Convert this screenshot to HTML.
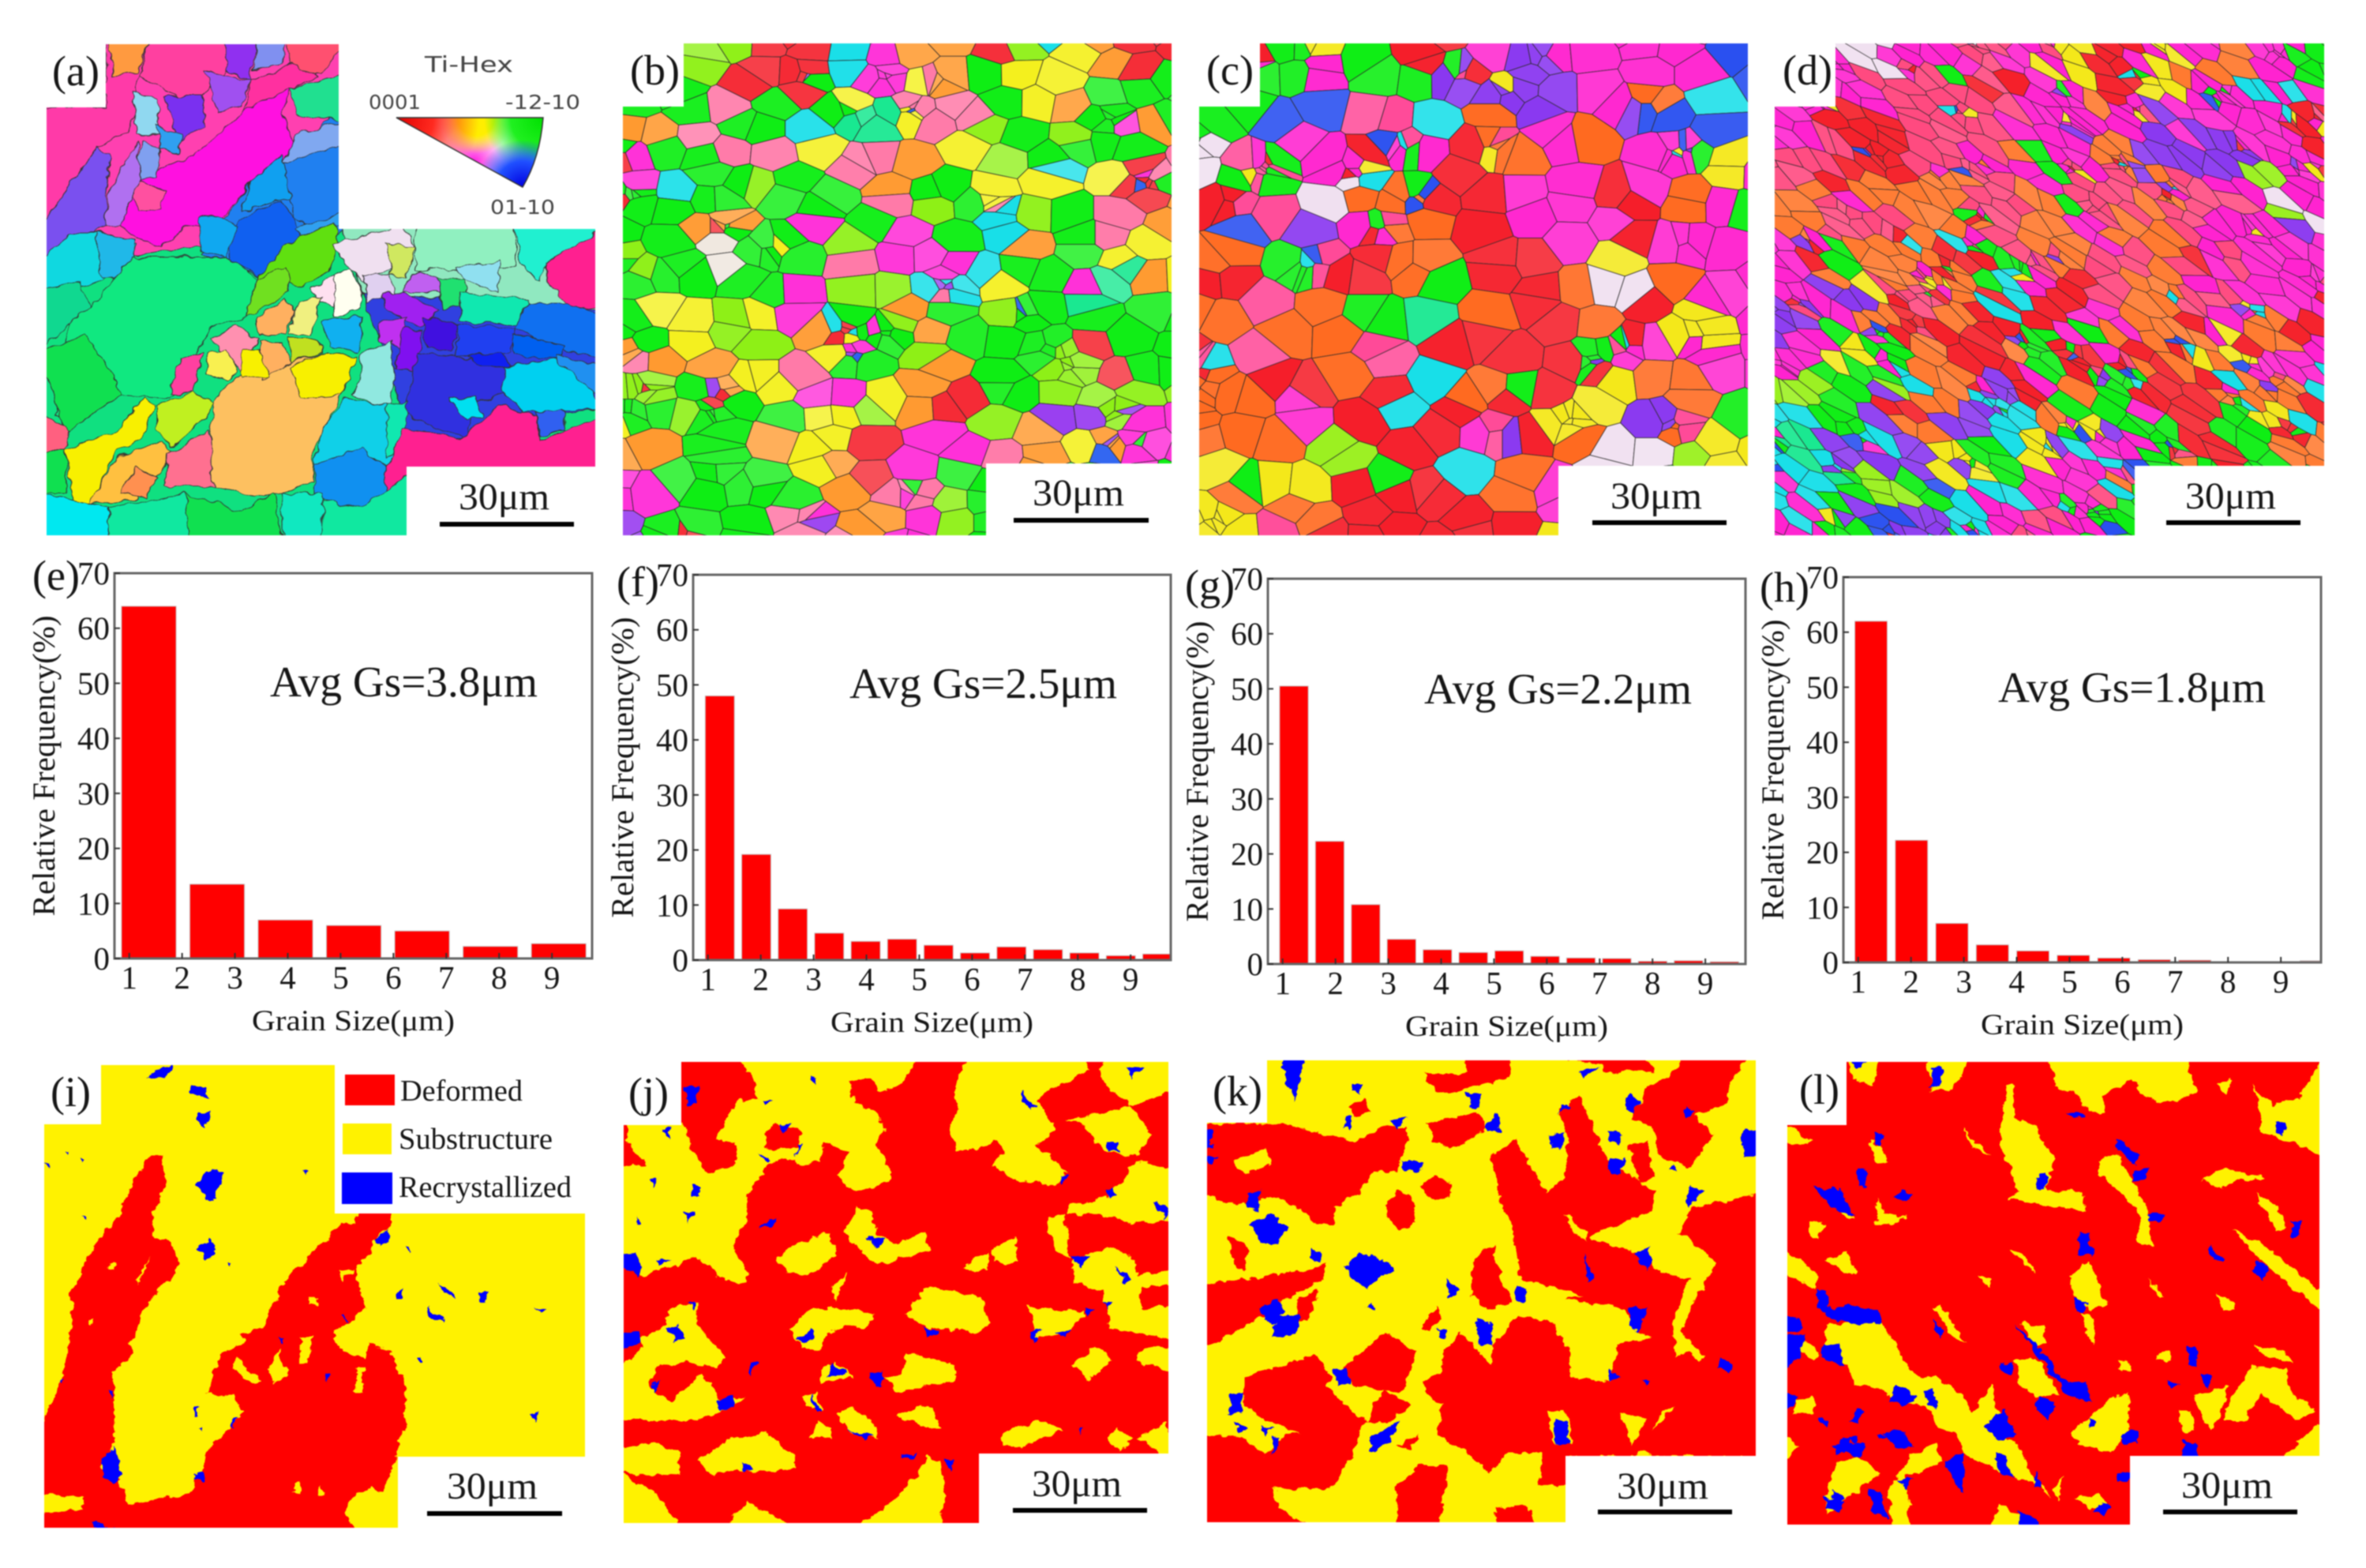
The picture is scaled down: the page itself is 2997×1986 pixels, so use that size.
<!DOCTYPE html>
<html lang="en">
<head>
<meta charset="utf-8">
<title>EBSD grain maps and grain size distributions</title>
<style>
html,body{margin:0;padding:0;background:#fff;width:2997px;height:1986px;overflow:hidden}
svg{display:block;filter:blur(.8px)}
text{font-family:"Liberation Serif",serif;fill:#161616}
.sans{font-family:"DejaVu Sans","Liberation Sans",sans-serif;fill:#444}
.panel{font-size:54px}
.scale{font-size:48px}
.leg{font-size:38px}
</style>
</head>
<body>
<svg id="figure" xmlns="http://www.w3.org/2000/svg" width="2997" height="1986" viewBox="0 0 2997 1986">
<defs>
  <clipPath id="clipA"><polygon points="134,56 429,56 429,290 754,290 754,591 515,591 515,678 59,678 59,136 134,136"/></clipPath>
  <clipPath id="clipB"><polygon points="866,55 1484,55 1484,587 1249,587 1249,678 789,678 789,135 866,135"/></clipPath>
  <clipPath id="clipC"><polygon points="1596,55 2214,55 2214,590 1974,590 1974,678 1519,678 1519,135 1596,135"/></clipPath>
  <clipPath id="clipD"><polygon points="2325,55 2944,55 2944,590 2704,590 2704,678 2248,678 2248,135 2325,135"/></clipPath>
  <clipPath id="clipI"><polygon points="128,1349 424,1349 424,1537 741,1537 741,1845 504,1845 504,1935 56,1935 56,1424 128,1424"/></clipPath>
  <clipPath id="clipJ"><polygon points="863,1345 1480,1345 1480,1841 1240,1841 1240,1929 790,1929 790,1425 863,1425"/></clipPath>
  <clipPath id="clipK"><polygon points="1605,1343 2224,1343 2224,1844 1983,1844 1983,1928 1529,1928 1529,1422 1605,1422"/></clipPath>
  <clipPath id="clipL"><polygon points="2339,1345 2938,1345 2938,1844 2698,1844 2698,1931 2264,1931 2264,1425 2339,1425"/></clipPath>
  <clipPath id="clipTri"><path d="M502,149 L688,149 Q684,200 662,237 Z"/></clipPath>
  <filter id="wobble" x="-5%" y="-5%" width="110%" height="110%" color-interpolation-filters="sRGB">
    <feTurbulence type="fractalNoise" baseFrequency=".035" numOctaves="3" seed="4" result="n"/>
    <feDisplacementMap in="SourceGraphic" in2="n" scale="26" xChannelSelector="R" yChannelSelector="G"/>
  </filter>
  <filter id="wobbleA" x="-5%" y="-5%" width="110%" height="110%" color-interpolation-filters="sRGB">
    <feTurbulence type="fractalNoise" baseFrequency=".03" numOctaves="2" seed="9" result="n"/>
    <feDisplacementMap in="SourceGraphic" in2="n" scale="24" xChannelSelector="R" yChannelSelector="G"/>
  </filter>
  <radialGradient id="tRed" gradientUnits="userSpaceOnUse" cx="502" cy="149" r="105"><stop offset="0" stop-color="#e00000"/><stop offset=".45" stop-color="#ff2a20"/><stop offset="1" stop-color="#ff2a20" stop-opacity="0"/></radialGradient>
  <radialGradient id="tGreen" gradientUnits="userSpaceOnUse" cx="688" cy="149" r="75"><stop offset="0" stop-color="#00e000"/><stop offset=".55" stop-color="#20f020"/><stop offset="1" stop-color="#20f020" stop-opacity="0"/></radialGradient>
  <radialGradient id="tBlue" gradientUnits="userSpaceOnUse" cx="662" cy="237" r="60"><stop offset="0" stop-color="#0000e0"/><stop offset=".55" stop-color="#2050ff"/><stop offset="1" stop-color="#2050ff" stop-opacity="0"/></radialGradient>
  <radialGradient id="tYellow" gradientUnits="userSpaceOnUse" cx="603" cy="149" r="46"><stop offset="0" stop-color="#ffee00"/><stop offset=".5" stop-color="#ffee00"/><stop offset="1" stop-color="#ffee00" stop-opacity="0"/></radialGradient>
  <radialGradient id="tMag" gradientUnits="userSpaceOnUse" cx="600" cy="205" r="44"><stop offset="0" stop-color="#ff20e0"/><stop offset="1" stop-color="#ff20e0" stop-opacity="0"/></radialGradient>
  <radialGradient id="tCyan" gradientUnits="userSpaceOnUse" cx="680" cy="195" r="32"><stop offset="0" stop-color="#10e8f0"/><stop offset="1" stop-color="#10e8f0" stop-opacity="0"/></radialGradient>
</defs>

<!-- orientation maps -->
<g clip-path="url(#clipA)">
  <rect x="59" y="56" width="695" height="622" fill="#10e080"/>
  <g id="grainsA" transform="scale(.5102,.4464)" filter="url(#wobbleA)"></g>
</g>
<g id="mapB" clip-path="url(#clipB)"></g>
<g id="mapC" clip-path="url(#clipC)"></g>
<g id="mapD" clip-path="url(#clipD)"></g>

<!-- inverse pole figure key -->
<g>
  <text class="sans" x="538" y="91" font-size="28" textLength="112" lengthAdjust="spacingAndGlyphs">Ti-Hex</text>
  <text class="sans" x="467" y="138" font-size="25" textLength="66" lengthAdjust="spacingAndGlyphs">0001</text>
  <text class="sans" x="640" y="138" font-size="25" textLength="95" lengthAdjust="spacingAndGlyphs">-12-10</text>
  <text class="sans" x="621" y="271" font-size="25" textLength="82" lengthAdjust="spacingAndGlyphs">01-10</text>
  <g clip-path="url(#clipTri)">
    <rect x="495" y="145" width="200" height="100" fill="#fff"/>
    <rect x="495" y="145" width="200" height="100" fill="url(#tMag)"/>
    <rect x="495" y="145" width="200" height="100" fill="url(#tCyan)"/>
    <rect x="495" y="145" width="200" height="100" fill="url(#tYellow)"/>
    <rect x="495" y="145" width="200" height="100" fill="url(#tRed)"/>
    <rect x="495" y="145" width="200" height="100" fill="url(#tGreen)"/>
    <rect x="495" y="145" width="200" height="100" fill="url(#tBlue)"/>
  </g>
  <path d="M502,149 L688,149 Q684,200 662,237 Z" fill="none" stroke="#333" stroke-width="1.5"/>
</g>

<!-- panel letters -->
<g>
  <text class="panel" x="66" y="108">(a)</text>
  <text class="panel" x="798" y="107">(b)</text>
  <text class="panel" x="1528" y="107">(c)</text>
  <text class="panel" x="2258" y="107">(d)</text>
  <text class="panel" x="41" y="747">(e)</text>
  <text class="panel" x="781" y="755">(f)</text>
  <text class="panel" x="1501" y="759">(g)</text>
  <text class="panel" x="2229" y="762">(h)</text>
  <text class="panel" x="64" y="1401">(i)</text>
  <text class="panel" x="796" y="1402">(j)</text>
  <text class="panel" x="1536" y="1400">(k)</text>
  <text class="panel" x="2279" y="1398">(l)</text>
</g>

<!-- histograms are filled in by the script -->
<g id="charts"></g>

<!-- recrystallization maps -->
<g clip-path="url(#clipI)">
  <rect x="56" y="1349" width="685" height="586" fill="#fff200"/>
  <g transform="translate(0,1340) scale(.5102,.412)" filter="url(#wobble)">
    <path fill="#f00" d="M405,295 375,295 345,345 300,470 240,570 175,720 180,800 165,920 150,1000 120,1090 100,1130 100,1340 205,1350 205,1385 100,1400 100,1460 880,1460 855,1400 885,1340 925,1320 950,1340 985,1220 1005,1120 1008,1000 965,900 920,875 900,925 830,880 830,840 910,770 885,680 885,640 920,600 940,540 970,520 970,470 890,470 880,510 845,510 780,590 700,700 660,825 600,850 600,880 550,910 515,1030 580,1040 605,1090 580,1130 520,1200 495,1280 470,1340 320,1370 300,1310 250,1260 285,1180 280,960 340,905 320,880 380,730 440,660 440,600 415,560 380,545 380,470 410,400Z"/>
    <path fill="#fff200" d="M335,700 370,615 372,610 360,660Z M845,690 880,650 845,650Z M765,760 790,765 790,730 765,730Z M665,960 690,890 715,970 680,1000Z M745,940 745,860 775,855 765,935Z M880,1030 890,950 905,950 900,1030Z M585,915 620,960 650,1000 625,1000 580,960Z M272,650 285,650 285,625 272,630Z M725,1330 745,1300 745,1340Z M790,1310 805,1345 790,1345Z M220,810 235,800 230,825Z"/>
    <path fill="#00f" d="M475,85 510,90 515,125 470,105Z M370,40 435,22 410,60 370,65Z M490,165 525,165 510,210 490,190Z M490,390 525,340 555,350 530,440 510,440Z M490,590 525,560 535,600 510,620Z M255,1230 285,1195 305,1280 280,1310 255,1290Z M935,550 965,525 965,565 945,580Z M1090,690 1130,730 1130,745 1100,720Z M230,1425 285,1443 230,1443Z M985,715 1000,710 1000,740 985,740Z M1065,765 1100,800 1095,815 1065,790Z M1190,720 1210,720 1205,750 1190,745Z M1332,770 1350,775 1345,790Z M1035,925 1045,925 1045,938 1035,938Z M1320,1100 1335,1085 1325,1115Z M1010,580 1020,580 1015,600Z M575,1110 590,1110 580,1135Z M480,1075 490,1075 488,1100 480,1100Z M485,1275 500,1270 505,1300 485,1300Z M490,1140 500,1140 500,1150Z M150,985 158,985 155,1000Z M265,1025 280,1025 275,1045Z M160,290 170,290 165,300Z M200,305 215,310 205,320Z M110,325 125,325 125,340Z M205,485 215,485 215,495Z M755,345 768,345 762,360Z M560,630 575,630 570,640Z M690,860 705,860 700,875Z M810,965 820,965 810,1000Z M850,790 858,790 855,815Z"/>
  </g>
</g>
<g clip-path="url(#clipJ)">
  <rect x="790" y="1345" width="690" height="584" fill="#f00"/>
  <g transform="translate(770,1330) scale(.4719,.4146)" filter="url(#wobble)">
    <path fill="#fff200" d="M30,360 100,350 90,330 60,300 45,220 200,220 240,340 270,380 340,350 350,290 290,270 350,155 400,150 390,85 350,25 830,25 790,100 740,130 700,85 650,100 660,160 720,190 745,240 720,290 765,380 730,420 660,430 615,385 650,310 580,280 570,340 510,350 480,330 430,350 375,440 375,510 335,600 375,680 375,710 320,710 240,630 180,660 90,690 30,620Z M960,25 1280,25 1290,60 1190,120 1150,150 1200,240 1150,290 1230,370 1200,410 1100,400 1030,350 1070,310 1040,280 1000,300 930,310 920,230 940,180 925,130Z M1340,25 1520,25 1520,125 1400,170 1340,110 1320,60Z M1230,210 1340,190 1400,170 1460,260 1420,325 1330,310 1280,230Z M1240,470 1340,450 1420,340 1520,360 1520,520 1400,530 1360,510 1230,500Z M1190,510 1225,500 1240,640 1200,610 1185,550Z M1250,640 1350,600 1420,640 1425,690 1520,670 1520,720 1430,720 1430,790 1520,780 1520,890 1350,850 1330,740 1250,710Z M1520,910 1520,990 1420,950 1440,905Z M1250,960 1310,900 1355,950 1290,1010Z M450,640 490,600 590,555 615,625 530,690 480,680Z M635,560 670,480 710,500 720,560 780,590 850,550 865,610 730,655 680,620Z M800,810 850,725 1000,750 1025,830 1000,860 860,850Z M1130,785 1280,800 1240,860 1150,880Z M490,850 540,790 650,790 720,810 690,850 660,840 590,860 570,920 520,910Z M740,1000 790,990 800,925 930,960 930,1010 780,1045Z M30,970 130,970 200,950 290,970 315,940 240,840 160,840 90,880 85,920Z M30,970 130,970 110,1030 170,1075 250,990 310,1070 370,1060 300,1110 240,1130 30,1130Z M155,790 240,770 240,840 160,840Z M30,1215 120,1200 190,1230 195,1300 30,1290Z M240,1250 330,1190 430,1170 500,1240 500,1280 400,1290 350,1280 280,1300Z M30,1290 120,1345 200,1460 30,1460Z M320,1460 370,1380 500,1460Z M760,1385 830,1300 860,1240 890,1260 905,1360 890,1460 660,1460Z M770,1120 830,1090 870,1090 895,1160 860,1150Z M610,1110 660,1090 720,1150 730,1190 650,1170Z M540,1190 570,1130 600,1160 600,1180Z M1060,1170 1150,1130 1220,1160 1120,1210 1060,1210Z M1340,1190 1370,1150 1410,1190 1370,1225Z M1420,1190 1500,1135 1520,1240 1480,1240 1440,1190Z M980,640 1020,615 1015,670 960,670Z M1030,610 1090,570 1095,650 1040,650Z M600,720 645,685 610,770Z M525,1060 560,1040 575,1100 545,1100Z M570,980 610,950 660,1000 570,1020Z"/>
    <path fill="#f00" d="M415,260 450,225 520,250 510,300 430,300Z"/>
    <path fill="#00f" d="M30,625 75,620 90,660 80,700 45,660Z M30,865 85,860 90,890 55,910 30,910Z M200,115 245,105 240,165 215,170Z M160,850 190,840 205,880 180,890Z M300,1070 335,1055 340,1090 300,1105Z M1240,630 1295,630 1270,665Z M1335,430 1360,420 1365,445 1345,452Z M1335,280 1370,280 1375,310 1340,310Z M1110,125 1145,170 1135,185 1110,150Z M700,985 740,975 735,1030 700,1010Z M510,880 550,850 550,880 520,900Z M700,570 745,575 720,610Z M405,540 450,515 450,530 410,545Z M355,1260 385,1280 370,1285Z M225,415 245,415 248,445 228,445Z M1210,385 1232,380 1220,410Z M1360,660 1405,700 1390,710Z M1135,860 1165,850 1145,895Z M840,845 890,860 860,880Z M1205,860 1240,860 1225,880Z M600,950 640,985 590,1000Z M380,950 400,950 385,995Z M545,1040 570,1100 555,1100Z M220,770 235,770 228,795Z M115,1030 140,1010 125,1045Z M430,515 445,520 425,540Z M1465,465 1500,470 1495,520Z M545,80 560,80 558,105Z M460,225 490,225 475,255Z M510,290 525,285 500,330Z M405,310 440,340 430,345Z M905,1250 925,1250 920,1290Z M785,1240 830,1230 815,1250Z M1390,50 1440,55 1405,85Z M410,155 440,150 420,165Z M150,240 175,235 160,275Z M110,390 130,385 125,420Z M205,495 230,495 215,525Z M75,510 90,530 75,530Z M130,640 170,640 135,660Z M1270,1160 1280,1155 1270,1180Z M640,1160 720,1180 690,1190Z M1280,790 1305,790 1285,810Z M1335,770 1350,770 1340,795Z"/>
  </g>
</g>
<g clip-path="url(#clipK)">
  <rect x="1529" y="1343" width="695" height="585" fill="#fff200"/>
  <g transform="translate(1510,1330) scale(.4719,.4146)" filter="url(#wobble)">
    <path fill="#f00" d="M30,225 240,225 300,240 380,270 440,280 520,230 570,240 580,270 550,370 490,370 450,430 385,480 380,530 340,530 240,450 200,450 150,470 90,470 30,430Z M620,70 735,70 735,25 855,25 855,80 690,130 660,130Z M630,220 770,190 790,240 710,300 650,280Z M420,170 460,150 480,190 440,200Z M800,320 870,270 950,435 1000,395 1010,280 985,180 1040,140 1110,330 1240,430 1235,490 1150,530 1075,560 1070,580 1200,620 1260,680 1340,700 1300,790 1290,860 1230,880 1190,850 1160,790 1000,760 1050,750 880,700 860,540 830,480Z M1310,560 1340,480 1525,440 1525,1240 1250,1240 1180,1215 1140,1100 1220,1120 1190,1200 1300,1090 1310,1030 1260,960 1330,920 1360,950 1380,935 1310,860 1340,780 1410,650 1380,620Z M970,25 1220,25 1240,60 1240,70 1180,60 1110,70 1100,40Z M1310,25 1490,25 1440,110 1440,160 1350,200 1400,260 1340,360 1250,320 1240,240 1180,210 1220,110 1280,80Z M1170,290 1220,280 1240,390 1200,400Z M620,1020 670,980 670,920 720,860 750,900 800,960 810,900 870,810 970,830 1010,920 1020,1000 1130,1010 1120,1050 1140,900 1230,880 1290,860 1300,950 1260,960 1310,1030 1300,1090 1250,1120 1190,1240 1010,1240 1010,1330 930,1330 940,1230 850,1230 800,1290 750,1240 660,1180 670,1080 640,1060Z M30,1180 140,1180 190,1240 260,1170 290,1170 460,1140 430,1240 370,1340 210,1340 230,1400 330,1460 30,1460Z M140,1000 250,960 330,930 380,1000 360,1030 470,1140 290,1170 200,1130 140,1090Z M400,980 480,900 520,860 600,920 570,1040 500,1040 430,1020Z M480,1090 520,1040 590,1080 520,1140 470,1140Z M30,720 130,700 260,680 360,655 350,700 250,760 150,840 30,910Z M520,470 550,430 590,440 600,530 560,550 520,510Z M610,420 650,380 700,410 690,450 640,460Z M750,640 810,600 830,700 860,770 790,790 750,750Z M545,1340 610,1270 690,1270 660,1460 550,1460Z M815,1400 900,1390 925,1460 820,1460Z M550,1210 610,1170 590,1220Z M100,570 150,600 140,680 110,650Z M280,760 340,730 310,830 285,830Z M610,850 660,780 670,820 640,860Z"/>
    <path fill="#fff200" d="M110,340 200,300 210,350 145,380Z M1000,500 1060,560 1060,585 1020,560Z M1150,1110 1225,1125 1180,1210Z M950,1100 1000,1100 1020,1210 970,1200Z"/>
    <path fill="#00f" d="M410,660 450,620 500,630 545,670 495,700 470,730 420,690Z M160,530 215,500 260,540 230,590 185,590Z M240,25 300,25 290,90 270,160 250,90Z M185,790 230,760 250,800 220,840 190,820Z M790,220 820,195 830,250 790,250Z M680,700 720,730 690,760Z M765,820 800,830 810,900 770,900Z M480,1180 560,1130 530,1200 480,1230Z M560,340 620,340 610,375 570,370Z M1120,240 1150,250 1150,290 1120,280Z M1170,140 1200,150 1190,195 1160,180Z M1190,620 1230,600 1230,670 1200,650Z M970,1130 1000,1130 1010,1210 975,1200Z M100,1050 140,1040 130,1110 100,1110Z M1480,245 1520,240 1520,330 1480,330Z M1035,60 1100,55 1050,85Z M150,440 180,430 175,490 150,480Z M870,725 900,730 890,775 870,760Z M380,975 410,975 425,1020 395,1020Z M320,600 350,620 345,650 320,640Z M230,820 290,810 280,870 215,880Z M1170,790 1220,780 1200,860 1175,850Z M30,250 55,250 55,300 30,300Z M30,320 70,325 50,350Z M1120,330 1165,330 1150,380 1120,380Z M1420,940 1450,960 1445,985 1410,970Z M1120,975 1150,1000 1120,1010Z M660,850 685,850 680,885 660,880Z M960,260 1000,250 990,300 970,300Z M740,130 780,130 770,175 745,170Z M430,100 455,100 450,135 430,130Z M410,210 430,200 425,240 405,235Z M530,215 580,205 550,240Z M1000,160 1020,170 985,195Z M1320,170 1350,190 1330,205Z M1290,350 1305,375 1275,365Z M1330,410 1375,430 1330,480Z M1055,620 1075,690 1060,710Z M480,770 495,800 470,790Z M1210,1010 1230,1015 1215,1030Z M110,1130 150,1160 125,1165Z M190,1150 215,1160 195,1180Z M215,1180 240,1180 220,1230Z"/>
  </g>
</g>
<g clip-path="url(#clipL)">
  <rect x="2264" y="1345" width="674" height="586" fill="#f00"/>
  <g transform="translate(2250,1330) scale(.4719,.4146)" filter="url(#wobble)">
    <path fill="#fff200" d="M730,25 1100,25 1130,130 1080,150 1030,165 980,130 950,90 880,140 880,190 840,190 800,130 750,110Z M1280,110 1330,170 1400,150 1470,25 1470,340 1430,300 1350,270 1300,250 1300,170Z M1185,100 1225,90 1205,135Z M400,25 520,25 470,125 420,130Z M190,25 280,25 260,110 200,80Z M615,100 640,100 640,200 690,230 745,330 730,430 820,430 830,490 760,480 680,465 620,455 650,430 620,340 600,290Z M860,340 910,320 960,400 1000,500 1000,580 970,570 985,510 910,420 870,380Z M1220,550 1300,590 1470,740 1470,800 1380,720 1280,620Z M1290,440 1340,470 1370,540 1340,550Z M20,230 100,280 70,290 20,280Z M20,610 110,680 100,730 20,680Z M130,640 190,620 215,690 170,670Z M250,280 280,290 300,350 270,340Z M790,690 840,640 890,780 840,800 800,750Z M820,800 850,820 855,895 835,880Z M630,610 660,620 700,680 650,640Z M130,840 280,830 330,910 340,950 400,1010 430,990 500,1060 530,1110 580,1020 590,1090 620,1190 650,1200 680,1290 740,1370 720,1330 620,1300 560,1270 500,1230 490,1180 400,1090 330,1070 290,1040 210,1020 190,960 130,900Z M660,830 720,850 725,900 690,900Z M640,950 700,940 760,1050 700,1060 660,1040Z M790,1170 900,1060 945,1050 945,1160 900,1230 810,1200Z M1230,1040 1280,970 1370,970 1380,1050 1450,1100 1400,1130 1300,1050 1260,1130 1200,1130Z M1080,1100 1110,1100 1130,1160 1090,1170Z M1360,1240 1470,1130 1470,1250Z M1120,1050 1210,1030 1190,1130 1160,1160Z M130,1380 160,1260 220,1240 280,1290 250,1320 180,1380 140,1420Z M300,1340 360,1240 430,1200 440,1260 350,1300 360,1460 310,1460Z M570,1460 600,1390 660,1430 680,1460Z M20,1170 60,1210 20,1260Z M50,1070 100,1060 100,1110 50,1110Z M800,1370 870,1350 890,1400 840,1400Z M740,1340 770,1300 760,1380Z M1020,930 1060,920 1060,950 1020,945Z M920,950 950,950 945,980 920,975Z M1280,900 1370,920 1390,960 1310,930Z M960,580 1000,520 1010,600Z M1180,740 1230,770 1230,790 1200,790Z M1140,400 1200,360 1310,390 1250,400 1200,410 1200,420Z M500,240 575,325 530,300Z M150,430 190,480 210,520 170,500Z M270,450 290,500 350,510 310,530 270,530Z M90,520 130,530 110,580 90,570Z M1000,700 1040,750 1030,760Z M425,790 445,780 510,900 470,870Z M20,880 70,880 120,930 100,950Z M380,1000 420,1000 440,1100 500,1180 430,1150Z M480,1130 560,1080 620,1200 590,1280 510,1220Z M1060,1290 1085,1300 1070,1310Z M1400,1350 1420,1360 1400,1370Z M540,690 580,700 570,725Z M1045,925 1060,940 1030,945Z"/>
    <path fill="#00f" d="M20,870 75,870 60,940 20,980Z M170,780 210,780 270,790 280,830 210,840 150,820 120,790Z M160,1200 240,1200 230,1240 160,1230Z M20,1040 60,1060 20,1110Z M270,1360 300,1430 250,1410Z M320,1020 380,1060 340,1090 310,1070Z M450,1260 500,1230 500,1350 470,1310Z M560,1150 610,1100 640,1180 590,1190Z M700,1060 750,1070 730,1130 700,1100Z M640,840 710,910 770,1010 830,1020 850,1080 780,1050 720,960Z M810,550 840,560 850,630 810,620Z M700,380 730,370 730,420 700,430Z M910,270 975,320 960,350 920,310Z M1290,645 1320,660 1310,700 1280,680Z M1340,220 1370,220 1360,260 1340,250Z M340,425 370,440 340,465 320,450Z M100,420 170,425 210,510 150,480Z M320,1310 370,1310 350,1340Z M875,1385 900,1390 880,1430 850,1410Z M265,250 290,260 280,290 260,280Z M1160,590 1200,640 1170,640Z M1000,500 1040,500 1035,525 1000,525Z M420,50 450,60 440,110 410,110Z M190,25 250,25 215,60Z M215,365 240,365 240,420 220,420Z M960,370 1000,360 985,400 960,400Z M1100,900 1125,910 1130,970 1110,960Z M150,1340 190,1370 150,1400Z M110,1120 145,1130 130,1155Z M180,1190 220,1180 215,1200Z M130,900 170,890 180,960 140,950 120,920Z M20,810 60,815 60,860 20,860Z M105,730 130,740 150,800 115,790Z M600,950 640,960 625,990 600,975Z M930,1170 975,1160 970,1200 935,1205Z M1090,1190 1130,1210 1130,1250 1090,1250Z M1385,525 1405,525 1405,565 1385,570Z M1140,990 1170,1000 1150,1030Z M780,185 830,200 800,210Z M420,820 450,860 440,880 420,850Z M250,1340 280,1345 300,1430 260,1410Z M130,1370 190,1380 170,1410 135,1400Z M285,1170 340,1165 365,1215 330,1220Z M650,1410 700,1430 705,1460 650,1460Z M915,1295 945,1290 945,1320 915,1320Z M215,1095 235,1100 215,1140 195,1130Z M395,1040 420,1040 435,1100 405,1080Z M800,760 830,770 825,800 805,795Z M840,1120 860,1140 840,1150Z M1050,1010 1085,1020 1060,1035Z M270,1175 300,1180 280,1190Z M590,1230 615,1240 635,1310 600,1290Z M690,1340 700,1280 710,1340Z M150,1210 200,1180 190,1230Z"/>
  </g>
</g>

<!-- status legend -->
<g>
  <rect x="437" y="1361" width="63" height="39" fill="#f00"/>
  <rect x="434" y="1423" width="62" height="39" fill="#fff200"/>
  <rect x="433" y="1485" width="64" height="40" fill="#00f"/>
  <text class="leg" x="507" y="1394" textLength="155" lengthAdjust="spacingAndGlyphs">Deformed</text>
  <text class="leg" x="505" y="1455" textLength="195" lengthAdjust="spacingAndGlyphs">Substructure</text>
  <text class="leg" x="505" y="1516" textLength="219" lengthAdjust="spacingAndGlyphs">Recrystallized</text>
</g>

<!-- scale bars -->
<g>
  <text class="scale" x="581" y="645" textLength="115" lengthAdjust="spacingAndGlyphs">30μm</text>
  <rect x="557" y="661" width="170" height="6" fill="#000"/>
  <text class="scale" x="1308" y="640" textLength="116" lengthAdjust="spacingAndGlyphs">30μm</text>
  <rect x="1284" y="656" width="171" height="6" fill="#000"/>
  <text class="scale" x="2040" y="644" textLength="116" lengthAdjust="spacingAndGlyphs">30μm</text>
  <rect x="2017" y="659" width="170" height="6" fill="#000"/>
  <text class="scale" x="2768" y="644" textLength="115" lengthAdjust="spacingAndGlyphs">30μm</text>
  <rect x="2744" y="659" width="170" height="6" fill="#000"/>
  <text class="scale" x="566" y="1898" textLength="115" lengthAdjust="spacingAndGlyphs">30μm</text>
  <rect x="541" y="1914" width="171" height="6" fill="#000"/>
  <text class="scale" x="1307" y="1895" textLength="114" lengthAdjust="spacingAndGlyphs">30μm</text>
  <rect x="1283" y="1910" width="170" height="6" fill="#000"/>
  <text class="scale" x="2048" y="1898" textLength="116" lengthAdjust="spacingAndGlyphs">30μm</text>
  <rect x="2024" y="1912" width="170" height="6" fill="#000"/>
  <text class="scale" x="2763" y="1897" textLength="116" lengthAdjust="spacingAndGlyphs">30μm</text>
  <rect x="2740" y="1912" width="170" height="6" fill="#000"/>
</g>
</svg>

<script>
// Histogram data
const xTickLabels = [1, 2, 3, 4, 5, 6, 7, 8, 9];
const yTickLabels = [0, 10, 20, 30, 40, 50, 60, 70];
const freqE = [64, 13.5, 7, 6, 5, 2.2, 2.7];
const freqF = [48, 19.2, 9.3, 4.9, 3.4, 3.8, 2.7, 1.3, 2.4, 1.9, 1.3, 0.8, 1.1];
const freqG = [50.5, 22.3, 10.8, 4.5, 2.6, 2.1, 2.4, 1.4, 1.1, 1.0, 0.5, 0.6, 0.4];
const freqH = [62, 22.2, 7.1, 3.2, 2.1, 1.3, 0.8, 0.5, 0.4, 0.1, 0.1, 0.3];
const binStartE = 1.37, binWidthE = 1.293;
const binStartF = 1.225, binWidthF = 0.69;
const binStartG = 1.213, binWidthG = 0.679;
const binStartH = 1.243, binWidthH = 0.766;
const avgE = "Avg Gs=3.8μm", avgF = "Avg Gs=2.5μm", avgG = "Avg Gs=2.2μm", avgH = "Avg Gs=1.8μm";

// Orientation-map colour sketches (low-resolution colour reading of each map)
const rowsB = ["gglrrcmoorlyor","gggyrylypgyogg","oppgcgspplglgg","gggpgypoyllggp","gcglggopgyycrr","ggogmlglgclgpo","lgwggplmmcoggy","ggggmplpcygmso","gylyocgoglgggg","oomloyglggglrg","lgoypmyorgglll","glgggylgllovlm","oggooyrmmpoyom","mggggorppggggg","vgmgppomlggggg"];
const rowsC = ["gggmgrmmvmvmmb","ggmmggvvvlmopc","ggbbpcmommyobm","wpmmbmrormommy","rgcwoorrmmrmom","bppvmorrmmmrgg","oygrrovrryygmg","rpprggoorowmom","opoogsororgrym","rpooporrrrgmmm","oororcrorrmoom","oomrrrrrrymvog","omylgrcmrowwly","rgyyrrrromgggg","yporrrrrcygggg"];
const rowsD = ["mmwmppmyrymomg","mmmpprmmrymmcr","mrrpppmmmvvmmr","prrppogmovvvmm","orooopmppopmlm","oppoopomoppmmw","mgoorgpopompmm","mvopocmrpoppmm","vmorrrrmmormor","mygorrgrrooymm","lgvcovrogrrooc","cgrovcoymgrgyr","svcvygymmgorro","cvlgbcmmcbgggg","mgbvcmpmgggggg"];
const paletteB = {g:"#0eee14",l:"#8ef016",y:"#f4f01e",o:"#ff9a30",p:"#ff7aa8",m:"#ff30d8",r:"#f52a35",c:"#18dfe8",b:"#2a60f0",v:"#9a40f0",w:"#f0e8e0",s:"#18e890"};
const paletteC = {g:"#0eee14",l:"#9af01e",y:"#f4e81a",o:"#ff6a20",p:"#ff4a98",m:"#ff28d0",r:"#f51e2a",c:"#18dfe8",b:"#2a50f0",v:"#8a38f0",w:"#f0e0f0",s:"#18e890"};
const paletteD = {g:"#0eee14",l:"#9af01e",y:"#f4e81a",o:"#ff7a30",p:"#ff4a80",m:"#ff22d0",r:"#f5202a",c:"#18dfe8",b:"#2a50f0",v:"#8a38f0",w:"#f0e0f0",s:"#18e890"};

// Hand-traced grains of map (a)
const grainsA = [
["#ff40b0","100,110 860,110 860,300 500,700 100,760"],
["#2080f0","500,720 620,520 860,300 860,650 660,790"],
["#90e8c0","840,640 1500,640 1500,880 900,830"],
["#3040e0","900,830 1500,880 1500,1160 1330,1180 1240,1150 1140,1250 1000,1220 1000,1160"],
["#ff3aa8","263,110 370,110 340,240 345,300 320,370 240,420 175,520 100,640 100,305 263,305"],
["#ff9a40","270,120 370,110 340,210 280,215"],
["#7a50ef","100,640 175,520 240,420 270,440 260,640 100,750"],
["#ff10e0","345,680 300,640 350,500 480,440 620,300 720,250 700,330 740,430 620,520 540,640 470,640 400,700"],
["#ff40a0","370,110 560,110 560,200 500,270 440,270 345,220"],
["#7a30f0","410,270 500,270 510,360 440,400"],
["#90d8f0","330,260 390,280 400,380 340,380"],
["#30a0f0","390,360 450,380 440,440 400,420"],
["#80a0f0","350,400 400,420 390,500 340,510"],
["#b070f0","260,640 270,540 340,400 350,500 300,640"],
["#ff50a0","345,510 410,540 400,590 350,600 330,560"],
["#9030f0","560,110 640,110 620,230 560,200"],
["#8090f0","640,110 710,110 700,180 630,200"],
["#ff5070","710,110 860,110 800,210 730,220"],
["#ff30a0","620,230 730,180 790,220 720,250 610,310"],
["#a050f0","510,200 620,230 600,300 540,320"],
["#20e090","720,250 860,210 860,340 740,330"],
["#80a8f0","740,380 860,340 860,410 760,500 700,460"],
["#2080f0","700,460 860,410 860,600 770,650 730,620"],
["#10a0f0","620,520 700,440 720,560 600,600"],
["#1060f0","570,680 590,620 700,570 730,620 750,680 660,790 570,740"],
["#10a8f0","490,620 540,610 590,640 560,730 500,710"],
["#30a0f0","730,650 860,600 860,630 760,680"],
["#10d8e0","100,740 175,660 250,660 340,690 330,720 250,800 100,820"],
["#20b8e8","240,660 335,680 335,780 250,790"],
["#10e880","225,870 330,730 560,730 640,790 610,900 520,930 440,1100 420,1130 300,1120 200,1200 140,1180 140,1060 180,900"],
["#10d890","100,820 200,800 225,870 140,950 100,1000"],
["#10e050","100,1000 210,950 270,1050 300,1120 160,1230 140,1150"],
["#60e010","700,700 830,630 840,690 820,770 750,810 640,790"],
["#70e020","640,790 710,760 720,830 660,870 610,900"],
["#f0e0f0","820,690 1000,640 1030,700 960,770 900,800 870,760"],
["#fffff0","830,780 870,760 900,830 890,880 830,900"],
["#ffe0f0","775,820 830,780 830,870 790,850"],
["#90f0c0","1030,640 1280,640 1280,750 1200,780 1100,760 1030,770"],
["#20f0d0","1280,640 1500,640 1500,680 1360,750 1340,800 1290,740"],
["#ff2090","1360,740 1500,650 1500,870 1420,880 1360,800"],
["#e0d0f0","900,780 970,780 980,830 910,860"],
["#d0e860","960,690 1030,700 1010,790 970,780"],
["#c060f0","1040,770 1090,790 1110,830 1000,830 1000,810"],
["#20e070","1090,790 1150,790 1160,860 1100,880"],
["#90e0f0","1130,760 1240,740 1240,830 1150,790"],
["#10e8b0","1140,830 1310,850 1330,920 1140,910"],
["#1070f0","1310,860 1410,860 1500,900 1500,1020 1350,980 1280,930"],
["#2040f0","1140,920 1280,930 1270,1000 1130,1010"],
["#0060f0","1270,950 1400,980 1390,1020 1280,1010"],
["#2090f0","1380,1010 1500,1040 1500,1120 1390,1090"],
["#a020f0","950,830 1000,830 1090,880 1040,930 950,870"],
["#4010e0","1050,900 1140,920 1120,1000 1060,980"],
["#c030f0","940,920 1010,900 1000,990 940,970"],
["#8010f0","1000,930 1050,940 1040,1060 980,1050"],
["#10b0f0","800,920 820,905 900,900 890,1000 820,980"],
["#3030e0","1040,1000 1130,1010 1250,1040 1280,1110 1180,1140 1160,1240 1050,1200 1000,1170"],
["#1020f0","1160,1010 1240,1000 1270,1040 1190,1040"],
["#00d0f0","1250,1040 1380,1020 1470,1110 1500,1160 1300,1170 1250,1110"],
["#00e0f0","1110,1130 1180,1130 1200,1180 1160,1190"],
["#90e8e0","890,1100 900,1000 970,970 980,1080 970,1160 870,1120"],
["#10d0e8","780,1320 800,1220 860,1130 1010,1160 1000,1220 960,1330"],
["#10e8b0","960,1150 1010,1140 1010,1240 960,1300"],
["#1090f0","780,1320 900,1270 960,1330 960,1420 880,1470 780,1400"],
["#ff2090","1000,1220 1100,1230 1140,1250 1240,1150 1330,1180 1340,1250 1500,1180 1500,1340 1030,1340 960,1400 960,1330"],
["#3060f0","1330,1170 1400,1160 1400,1220 1340,1240"],
["#fdc060","530,1140 580,1070 720,1030 810,1000 890,1010 850,1120 780,1270 775,1370 700,1400 630,1410 530,1380 520,1290"],
["#f8f000","720,1040 810,1000 890,1010 850,1120 750,1130"],
["#ff90b0","520,960 590,920 640,960 600,1050 540,990"],
["#ffb060","640,900 710,850 740,880 710,950 640,950"],
["#f0f080","740,860 800,840 770,950 720,950"],
["#ffb060","640,970 700,970 720,1030 650,1080"],
["#c0e020","720,960 790,960 800,1000 720,1030"],
["#f8f050","520,1000 560,990 590,1050 560,1080 510,1060"],
["#f8f000","600,990 640,990 670,1070 600,1070"],
["#ff40a0","420,1120 450,1020 510,1000 490,1060 480,1110"],
["#c0f020","390,1150 480,1110 530,1150 500,1190 430,1270 390,1220"],
["#f8f000","165,1280 290,1220 360,1130 385,1150 350,1240 290,1280 220,1440 180,1440"],
["#ffc040","220,1430 290,1300 400,1250 430,1280 400,1340 330,1420"],
["#ff9050","300,1400 340,1320 390,1360 360,1410"],
["#ff7090","410,1380 420,1290 520,1220 530,1380"],
["#00e8f0","100,1400 270,1440 270,1540 100,1540"],
["#10e8a0","270,1440 460,1400 470,1540 270,1540"],
["#10e050","460,1400 600,1450 680,1400 700,1540 470,1540"],
["#10e8c0","700,1400 800,1400 810,1540 700,1540"],
["#10e8a0","800,1420 900,1440 1030,1330 1030,1540 800,1540"],
["#10e050","100,1280 165,1280 165,1400 100,1400"],
["#ff6080","100,1170 170,1220 165,1280 100,1280"]
];

const SVGNS = "http://www.w3.org/2000/svg";
function make(parent, tag, attrs, txt) {
  const el = document.createElementNS(SVGNS, tag);
  for (const k in attrs) el.setAttribute(k, attrs[k]);
  if (txt !== undefined) el.textContent = txt;
  parent.appendChild(el);
  return el;
}

// Map (a)
const gA = document.getElementById("grainsA");
grainsA.forEach(function (g) {
  const el = make(gA, "polygon", {points: g[1], fill: g[0], stroke: "#333", "stroke-width": 2, "stroke-linejoin": "round"});
  
  
});

// Maps (b)-(d): decorative Voronoi microstructure texture coloured from the hand-read rows
function lighten(hex, t) {
  const n = parseInt(hex.slice(1), 16);
  const f = function (c) { return Math.round(c + (255 - c) * t); };
  return "rgb(" + f(n >> 16 & 255) + "," + f(n >> 8 & 255) + "," + f(n & 255) + ")";
}
function tessellate(id, rows, palette, lightMax, ox, oy, spacing, stretch, angleDeg, seed, mix, clusterP, sw) {
  const root = document.getElementById(id);
  const g = make(root, "g", {transform: "translate(" + ox + "," + oy + ") scale(.4719,.4209)"});
  let s = seed;
  function rnd() { s = (s * 1664525 + 1013904223) % 4294967296; return s / 4294967296; }
  const c = Math.cos(angleDeg * Math.PI / 180), sn = Math.sin(angleDeg * Math.PI / 180);
  const toU = function (x, y) { return (x * c + y * sn) / stretch; };
  const toV = function (x, y) { return -x * sn + y * c; };
  const backX = function (u, v) { return u * stretch * c - v * sn; };
  const backY = function (u, v) { return u * stretch * sn + v * c; };
  const X0 = 40, Y0 = 60, CW = 105.2, CH = 98.7, XA = -60, XB = 1600, YA = -10, YB = 1620;
  const corners = [[XA, YA], [XB, YA], [XA, YB], [XB, YB]];
  const us = corners.map(function (p) { return toU(p[0], p[1]); });
  const vs = corners.map(function (p) { return toV(p[0], p[1]); });
  const seeds = [];
  for (let u = Math.min.apply(null, us); u < Math.max.apply(null, us); u += spacing) {
    for (let v = Math.min.apply(null, vs); v < Math.max.apply(null, vs); v += spacing) {
      const su = u + (rnd() - .5) * spacing * .95, sv = v + (rnd() - .5) * spacing * .95;
      const x = backX(su, sv), y = backY(su, sv);
      if (x < XA || x > XB || y < YA || y > YB) continue;
      seeds.push({u: su, v: sv, x: x, y: y, tiny: false});
      if (rnd() < clusterP) {
        const n = 3 + Math.floor(rnd() * 4);
        for (let k = 0; k < n; k++) {
          const cu = su + spacing * .5 + (rnd() - .5) * spacing * .5, cv = sv + (rnd() - .5) * spacing * .5;
          seeds.push({u: cu, v: cv, x: backX(cu, cv), y: backY(cu, cv), tiny: true});
        }
      }
    }
  }
  const R = spacing * 3;
  seeds.forEach(function (a) {
    let poly = [[a.u - R, a.v - R], [a.u + R, a.v - R], [a.u + R, a.v + R], [a.u - R, a.v + R]];
    for (let j = 0; j < seeds.length && poly.length; j++) {
      const b = seeds[j];
      if (b === a) continue;
      const dx = b.u - a.u, dy = b.v - a.v;
      if (Math.abs(dx) > 2.2 * R || Math.abs(dy) > 2.2 * R) continue;
      const mx = (a.u + b.u) / 2, my = (a.v + b.v) / 2;
      const out = [];
      for (let i = 0; i < poly.length; i++) {
        const p = poly[i], q = poly[(i + 1) % poly.length];
        const dp = (p[0] - mx) * dx + (p[1] - my) * dy, dq = (q[0] - mx) * dx + (q[1] - my) * dy;
        if (dp <= 0) out.push(p);
        if ((dp < 0 && dq > 0) || (dp > 0 && dq < 0)) {
          const t = dp / (dp - dq);
          out.push([p[0] + (q[0] - p[0]) * t, p[1] + (q[1] - p[1]) * t]);
        }
      }
      poly = out;
    }
    if (poly.length < 3) return;
    let col = Math.floor((a.x - X0 + (rnd() - .5) * 60) / CW);
    let row = Math.floor((a.y - Y0 + (rnd() - .5) * 60) / CH);
    if (rnd() < mix) { col += Math.floor(rnd() * 5) - 2; row += Math.floor(rnd() * 5) - 2; }
    col = Math.max(0, Math.min(13, col));
    row = Math.max(0, Math.min(rows.length - 1, row));
    let key = rows[row][col];
    if (a.tiny && rnd() < .4) key = "mcbyrpgv"[Math.floor(rnd() * 8)];
    const r = rnd();
    const el = make(g, "polygon", {
      points: poly.map(function (p) { return backX(p[0], p[1]).toFixed(0) + "," + backY(p[0], p[1]).toFixed(0); }).join(" "),
      fill: lighten(palette[key], r * r * lightMax), stroke: "#2a2a2a", "stroke-width": sw, "stroke-linejoin": "round"
    });
    
    
  });
}
tessellate("mapB", rowsB, paletteB, .22, 770, 30, 80, 1.25, 0, 17, .04, .1, 1.8);
tessellate("mapC", rowsC, paletteC, .14, 1500, 30, 98, 1.1, 0, 91, .04, .14, 1.8);
tessellate("mapD", rowsD, paletteD, .12, 2240, 30, 40, 2.3, 38, 53, .16, .14, 1.6);

// Histograms
const X_MIN = 0.72, X_MAX = 9.76, Y_MAX = 70;
const FRAME_W = 605, FRAME_H = 488;
function drawChart(key, left, top, values, binStart, binWidth, avgLabel, avgDx, avgDy) {
  const root = document.getElementById("charts");
  const chart = make(root, "g", {});
  
  
  const bottom = top + FRAME_H;
  const xScale = function (v) { return left + (v - X_MIN) / (X_MAX - X_MIN) * FRAME_W; };
  const yScale = function (v) { return bottom - v / Y_MAX * FRAME_H; };

  values.forEach(function (v, i) {
    const centre = binStart + i * binWidth;
    const x0 = xScale(centre - binWidth * .4), x1 = Math.min(xScale(centre + binWidth * .4), left + FRAME_W);
    const bar = make(chart, "rect", {x: x0, y: yScale(v), width: x1 - x0, height: bottom - yScale(v), fill: "#f00", stroke: "#c8c8c8", "stroke-width": 1});
    
    
  });

  const frame = make(chart, "rect", {x: left, y: top, width: FRAME_W, height: FRAME_H, fill: "none", stroke: "#666", "stroke-width": 3});
  
  

  yTickLabels.forEach(function (t) {
    const y = yScale(t);
    const mark = make(chart, "line", {x1: left, x2: left + 7, y1: y, y2: y, stroke: "#333", "stroke-width": 2});
    
    
    const lab = make(chart, "text", {x: left - 6, y: y + 14, "text-anchor": "end", "font-size": 41}, String(t));
    
    
  });
  xTickLabels.forEach(function (t) {
    const x = xScale(t);
    const mark = make(chart, "line", {x1: x, x2: x, y1: bottom, y2: bottom - 7, stroke: "#333", "stroke-width": 2});
    
    
    const lab = make(chart, "text", {x: x, y: bottom + 38, "text-anchor": "middle", "font-size": 41}, String(t));
    
    
  });

  const xt = make(chart, "text", {x: left + FRAME_W / 2, y: bottom + 91, "text-anchor": "middle", "font-size": 37, textLength: 257, lengthAdjust: "spacingAndGlyphs"}, "Grain Size(μm)");
  
  
  const yx = left - 76, yy = top + FRAME_H / 2;
  const yt = make(chart, "text", {x: yx, y: yy, "text-anchor": "middle", "font-size": 40, textLength: 381, lengthAdjust: "spacingAndGlyphs", transform: "rotate(-90 " + yx + " " + yy + ")"}, "Relative Frequency(%)");
  
  
  const avg = make(chart, "text", {x: left + avgDx, y: top + avgDy, "font-size": 55, textLength: 339, lengthAdjust: "spacingAndGlyphs"}, avgLabel);
  
  
}
drawChart("e", 145, 726, freqE, binStartE, binWidthE, avgE, 197, 156);
drawChart("f", 878, 728, freqF, binStartF, binWidthF, avgF, 198, 156);
drawChart("g", 1606, 733, freqG, binStartG, binWidthG, avgG, 198, 158);
drawChart("h", 2335, 731, freqH, binStartH, binWidthH, avgH, 196, 158);
</script>
</body>
</html>
